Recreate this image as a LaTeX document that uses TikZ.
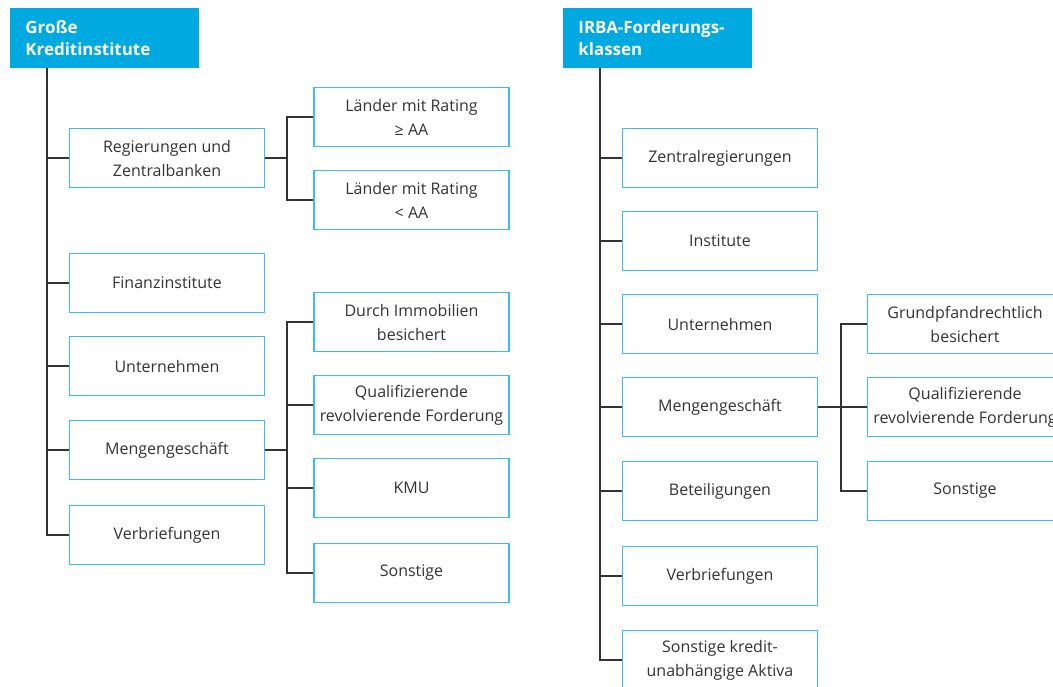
\documentclass[tikz,border=0pt]{standalone}
\usepackage{fontspec}
\setmainfont{Open Sans}
\usetikzlibrary{positioning}
\definecolor{headblue}{HTML}{00A9E0}
\definecolor{boxblue}{HTML}{3DBDEB}
\definecolor{linegray}{HTML}{333333}
\definecolor{textgray}{HTML}{333333}

\tikzset{
  head/.style={fill=headblue, text=white, anchor=north west, align=left,
    font=\fontsize{12.7pt}{17pt}\selectfont\bfseries,
    minimum width=141.75pt, minimum height=45pt, text width=119pt, inner xsep=11.25pt},
  catbox/.style={draw=boxblue, line width=1.1pt, fill=white, text=textgray, align=center,
    font=\fontsize{12pt}{18pt}\selectfont,
    minimum width=146pt, minimum height=44pt, inner sep=2pt},
  tree/.style={draw=linegray, line width=0.9pt}
}

\begin{document}
\begin{tikzpicture}[x=0.75pt,y=-0.75pt]
    \clip (0,0) rectangle (1053,686);
    \fill[white] (0,0) rectangle (1053,686);

    % Grosse Kreditinstitute
    \node[head] (lhead) at (10,8) {Große\\Kreditinstitute};
    \node[catbox] (lreg) at (167,158) {Regierungen und\\Zentralbanken};
    \node[catbox] (lfin) at (167,283) {Finanzinstitute};
    \node[catbox] (lunt) at (167,366) {Unternehmen};
    \node[catbox] (lmen) at (167,450) {Mengengeschäft};
    \node[catbox] (lver) at (167,535) {Verbriefungen};
    \node[catbox] (lgt)  at (411.5,117) {Länder mit Rating\\≥ AA};
    \node[catbox] (llt)  at (411.5,200) {Länder mit Rating\\< AA};
    \node[catbox] (limm) at (411.5,322) {Durch Immobilien\\besichert};
    \node[catbox] (lqrf) at (411.5,405) {Qualifizierende\\revolvierende Forderung};
    \node[catbox] (lkmu) at (411.5,488) {KMU};
    \node[catbox] (lson) at (411.5,573) {Sonstige};

    \coordinate (ltrunk) at (47,68);
    \coordinate (lsplitA) at (287,158);
    \coordinate (lsplitB) at (287,450);
    \draw[tree] (ltrunk) |- (lver.west);
    \foreach \n in {lreg,lfin,lunt,lmen}
        \draw[tree] (ltrunk |- \n.west) -- (\n.west);
    \draw[tree] (lreg.east) -- (lsplitA);
    \draw[tree] (lgt.west) -| (lsplitA) |- (llt.west);
    \draw[tree] (lmen.east) -- (lsplitB);
    \draw[tree] (limm.west) -| (lsplitB) |- (lson.west);
    \foreach \n in {lqrf,lkmu}
        \draw[tree] (lsplitB |- \n.west) -- (\n.west);

    % IRBA-Forderungsklassen
    \node[head] (rhead) at (563,8) {IRBA-Forderungs-\\klassen};
    \node[catbox] (rzen) at (720,158) {Zentralregierungen};
    \node[catbox] (rins) at (720,241) {Institute};
    \node[catbox] (runt) at (720,324) {Unternehmen};
    \node[catbox] (rmen) at (720,407) {Mengengeschäft};
    \node[catbox] (rbet) at (720,491) {Beteiligungen};
    \node[catbox] (rver) at (720,576) {Verbriefungen};
    \node[catbox] (rsko) at (720,660) {Sonstige kredit-\\unabhängige Aktiva};
    \node[catbox] (rgru) at (965,324) {Grundpfandrechtlich\\besichert};
    \node[catbox] (rqrf) at (965,407) {Qualifizierende\\revolvierende Forderung};
    \node[catbox] (rson) at (965,491) {Sonstige};

    \coordinate (rtrunk) at (600,68);
    \coordinate (rsplit) at (841,407);
    \draw[tree] (rtrunk) |- (rsko.west);
    \foreach \n in {rzen,rins,runt,rmen,rbet,rver}
        \draw[tree] (rtrunk |- \n.west) -- (\n.west);
    \draw[tree] (rmen.east) -- (rqrf.west);
    \draw[tree] (rgru.west) -| (rsplit) |- (rson.west);
\end{tikzpicture}
\end{document}
